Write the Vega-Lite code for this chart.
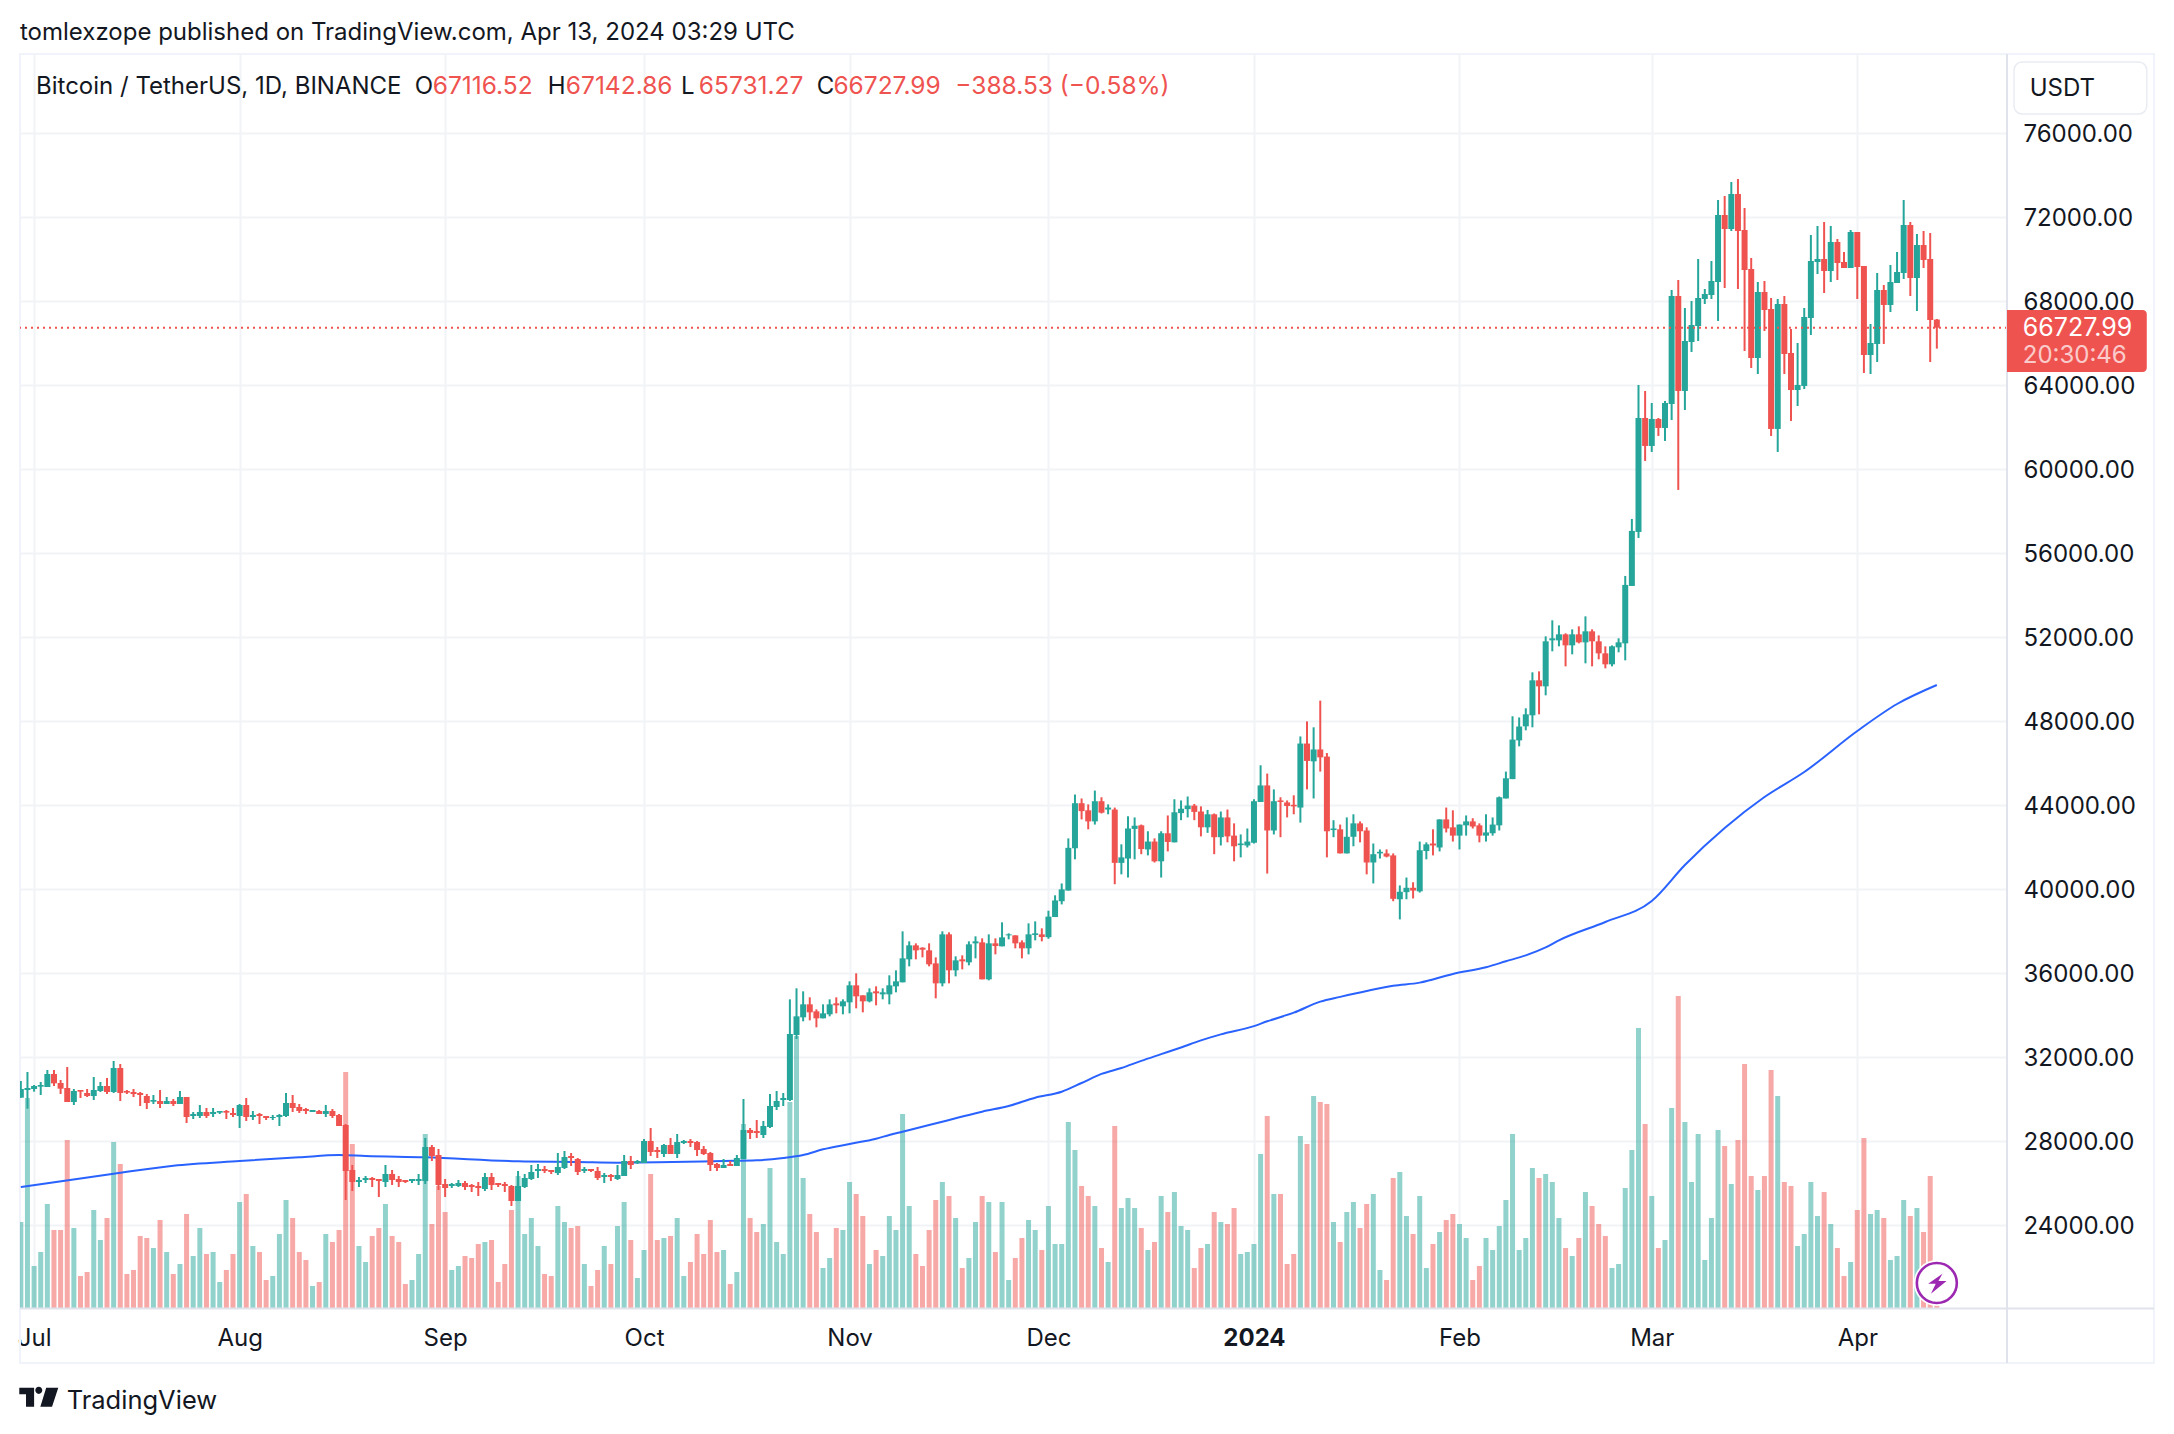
{
"$schema":"https://vega.github.io/schema/vega-lite/v6.json",
"width":1987,"height":1254,"autosize":{"type":"none"},"padding":{"left":20,"top":54,"right":167,"bottom":126},"background":"#ffffff",
"datasets":{
"candles":[
{"d":"2023-06-29","o":30064,"h":30857,"l":30064,"c":30476,"v":43},
{"d":"2023-06-30","o":30429,"h":31286,"l":29540,"c":30524,"v":105},
{"d":"2023-07-01","o":30476,"h":30667,"l":30350,"c":30619,"v":21},
{"d":"2023-07-02","o":30588,"h":30810,"l":30191,"c":30667,"v":28},
{"d":"2023-07-03","o":30572,"h":31381,"l":30572,"c":31190,"v":52},
{"d":"2023-07-04","o":31190,"h":31381,"l":30619,"c":30746,"v":39},
{"d":"2023-07-05","o":30762,"h":30905,"l":30238,"c":30492,"v":39},
{"d":"2023-07-06","o":30524,"h":31524,"l":29858,"c":29858,"v":84},
{"d":"2023-07-07","o":29858,"h":30476,"l":29715,"c":30381,"v":40},
{"d":"2023-07-08","o":30429,"h":30429,"l":30048,"c":30349,"v":16},
{"d":"2023-07-09","o":30286,"h":30476,"l":30096,"c":30143,"v":18},
{"d":"2023-07-10","o":30143,"h":31048,"l":29953,"c":30429,"v":49},
{"d":"2023-07-11","o":30381,"h":30810,"l":30334,"c":30619,"v":34},
{"d":"2023-07-12","o":30619,"h":31000,"l":30238,"c":30334,"v":45},
{"d":"2023-07-13","o":30334,"h":31810,"l":30286,"c":31476,"v":83},
{"d":"2023-07-14","o":31476,"h":31667,"l":29905,"c":30286,"v":72},
{"d":"2023-07-15","o":30381,"h":30429,"l":30238,"c":30302,"v":17},
{"d":"2023-07-16","o":30334,"h":30476,"l":30096,"c":30238,"v":19},
{"d":"2023-07-17","o":30286,"h":30334,"l":29667,"c":30191,"v":36},
{"d":"2023-07-18","o":30143,"h":30238,"l":29524,"c":29810,"v":35},
{"d":"2023-07-19","o":29873,"h":30191,"l":29762,"c":29953,"v":30},
{"d":"2023-07-20","o":29905,"h":30429,"l":29572,"c":29762,"v":44},
{"d":"2023-07-21","o":29762,"h":30096,"l":29762,"c":29905,"v":28},
{"d":"2023-07-22","o":29905,"h":30000,"l":29667,"c":29762,"v":17},
{"d":"2023-07-23","o":29762,"h":30381,"l":29762,"c":30096,"v":22},
{"d":"2023-07-24","o":30096,"h":30096,"l":28858,"c":29143,"v":47},
{"d":"2023-07-25","o":29191,"h":29381,"l":29048,"c":29286,"v":26},
{"d":"2023-07-26","o":29191,"h":29715,"l":29096,"c":29381,"v":40},
{"d":"2023-07-27","o":29381,"h":29572,"l":29096,"c":29191,"v":27},
{"d":"2023-07-28","o":29286,"h":29572,"l":29143,"c":29381,"v":28},
{"d":"2023-07-29","o":29350,"h":29429,"l":29286,"c":29429,"v":13},
{"d":"2023-07-30","o":29429,"h":29477,"l":29048,"c":29350,"v":19},
{"d":"2023-07-31","o":29334,"h":29572,"l":29143,"c":29238,"v":27},
{"d":"2023-08-01","o":29191,"h":29762,"l":28620,"c":29715,"v":53},
{"d":"2023-08-02","o":29715,"h":30048,"l":28953,"c":29143,"v":57},
{"d":"2023-08-03","o":29143,"h":29429,"l":29001,"c":29238,"v":31},
{"d":"2023-08-04","o":29286,"h":29334,"l":28810,"c":29191,"v":28},
{"d":"2023-08-05","o":29191,"h":29191,"l":29001,"c":29096,"v":14},
{"d":"2023-08-06","o":29096,"h":29238,"l":29001,"c":29143,"v":16},
{"d":"2023-08-07","o":29143,"h":29286,"l":28715,"c":29238,"v":37},
{"d":"2023-08-08","o":29191,"h":30286,"l":29143,"c":29810,"v":54},
{"d":"2023-08-09","o":29810,"h":30191,"l":29381,"c":29572,"v":45},
{"d":"2023-08-10","o":29620,"h":29762,"l":29334,"c":29429,"v":28},
{"d":"2023-08-11","o":29524,"h":29572,"l":29286,"c":29429,"v":24},
{"d":"2023-08-12","o":29381,"h":29477,"l":29381,"c":29477,"v":11},
{"d":"2023-08-13","o":29429,"h":29477,"l":29286,"c":29286,"v":13},
{"d":"2023-08-14","o":29286,"h":29715,"l":29143,"c":29429,"v":37},
{"d":"2023-08-15","o":29429,"h":29524,"l":29096,"c":29191,"v":33},
{"d":"2023-08-16","o":29238,"h":29286,"l":28715,"c":28715,"v":39},
{"d":"2023-08-17","o":28762,"h":28810,"l":25192,"c":26572,"v":118},
{"d":"2023-08-18","o":26620,"h":26858,"l":25620,"c":26048,"v":82},
{"d":"2023-08-19","o":26048,"h":26286,"l":25810,"c":26144,"v":31},
{"d":"2023-08-20","o":26144,"h":26334,"l":26000,"c":26239,"v":23},
{"d":"2023-08-21","o":26239,"h":26286,"l":25810,"c":26144,"v":36},
{"d":"2023-08-22","o":26191,"h":26191,"l":25334,"c":26096,"v":40},
{"d":"2023-08-23","o":26048,"h":26858,"l":25810,"c":26429,"v":52},
{"d":"2023-08-24","o":26429,"h":26620,"l":25905,"c":26144,"v":36},
{"d":"2023-08-25","o":26191,"h":26334,"l":25810,"c":26048,"v":33},
{"d":"2023-08-26","o":26144,"h":26144,"l":26000,"c":26048,"v":12},
{"d":"2023-08-27","o":26096,"h":26191,"l":26000,"c":26191,"v":14},
{"d":"2023-08-28","o":26096,"h":26429,"l":25905,"c":26191,"v":27},
{"d":"2023-08-29","o":26096,"h":28143,"l":25953,"c":27715,"v":87},
{"d":"2023-08-30","o":27715,"h":27810,"l":27048,"c":27286,"v":42},
{"d":"2023-08-31","o":27334,"h":27620,"l":25668,"c":25905,"v":61},
{"d":"2023-09-01","o":25953,"h":26191,"l":25334,"c":25762,"v":48},
{"d":"2023-09-02","o":25858,"h":26000,"l":25762,"c":25953,"v":19},
{"d":"2023-09-03","o":25858,"h":26144,"l":25810,"c":26000,"v":21},
{"d":"2023-09-04","o":26000,"h":26096,"l":25668,"c":25810,"v":26},
{"d":"2023-09-05","o":25905,"h":25953,"l":25572,"c":25810,"v":25},
{"d":"2023-09-06","o":25858,"h":26048,"l":25382,"c":25762,"v":32},
{"d":"2023-09-07","o":25715,"h":26477,"l":25620,"c":26286,"v":33},
{"d":"2023-09-08","o":26286,"h":26477,"l":25668,"c":25905,"v":34},
{"d":"2023-09-09","o":26000,"h":26000,"l":25810,"c":25905,"v":13},
{"d":"2023-09-10","o":25953,"h":26048,"l":25572,"c":25858,"v":22},
{"d":"2023-09-11","o":25858,"h":25905,"l":24906,"c":25144,"v":49},
{"d":"2023-09-12","o":25144,"h":26572,"l":25144,"c":25858,"v":66},
{"d":"2023-09-13","o":25810,"h":26429,"l":25762,"c":26239,"v":37},
{"d":"2023-09-14","o":26191,"h":26858,"l":26144,"c":26525,"v":45},
{"d":"2023-09-15","o":26572,"h":26905,"l":26239,"c":26667,"v":31},
{"d":"2023-09-16","o":26667,"h":26810,"l":26477,"c":26572,"v":17},
{"d":"2023-09-17","o":26620,"h":26620,"l":26429,"c":26525,"v":16},
{"d":"2023-09-18","o":26477,"h":27429,"l":26381,"c":26762,"v":51},
{"d":"2023-09-19","o":26715,"h":27524,"l":26667,"c":27239,"v":43},
{"d":"2023-09-20","o":27286,"h":27429,"l":26810,"c":27191,"v":40},
{"d":"2023-09-21","o":27143,"h":27191,"l":26381,"c":26525,"v":41},
{"d":"2023-09-22","o":26572,"h":26762,"l":26477,"c":26667,"v":22},
{"d":"2023-09-23","o":26667,"h":26667,"l":26525,"c":26572,"v":11},
{"d":"2023-09-24","o":26572,"h":26762,"l":26144,"c":26239,"v":19},
{"d":"2023-09-25","o":26286,"h":26477,"l":26000,"c":26381,"v":31},
{"d":"2023-09-26","o":26381,"h":26429,"l":26096,"c":26286,"v":22},
{"d":"2023-09-27","o":26191,"h":26858,"l":26144,"c":26381,"v":41},
{"d":"2023-09-28","o":26334,"h":27334,"l":26334,"c":27048,"v":53},
{"d":"2023-09-29","o":27048,"h":27286,"l":26667,"c":26858,"v":34},
{"d":"2023-09-30","o":26953,"h":27096,"l":26905,"c":27048,"v":15},
{"d":"2023-10-01","o":26953,"h":28096,"l":26953,"c":28000,"v":29},
{"d":"2023-10-02","o":28000,"h":28620,"l":27286,"c":27477,"v":67},
{"d":"2023-10-03","o":27572,"h":27715,"l":27191,"c":27477,"v":34},
{"d":"2023-10-04","o":27381,"h":27858,"l":27239,"c":27810,"v":35},
{"d":"2023-10-05","o":27810,"h":28143,"l":27381,"c":27381,"v":36},
{"d":"2023-10-06","o":27381,"h":28334,"l":27191,"c":27953,"v":45},
{"d":"2023-10-07","o":27905,"h":28048,"l":27858,"c":28000,"v":16},
{"d":"2023-10-08","o":28000,"h":28096,"l":27715,"c":27905,"v":23},
{"d":"2023-10-09","o":27953,"h":28000,"l":27286,"c":27572,"v":37},
{"d":"2023-10-10","o":27620,"h":27762,"l":27334,"c":27381,"v":27},
{"d":"2023-10-11","o":27429,"h":27477,"l":26572,"c":26858,"v":44},
{"d":"2023-10-12","o":26905,"h":26953,"l":26572,"c":26715,"v":28},
{"d":"2023-10-13","o":26715,"h":27143,"l":26715,"c":26858,"v":29},
{"d":"2023-10-14","o":26905,"h":27048,"l":26810,"c":26810,"v":12},
{"d":"2023-10-15","o":26810,"h":27334,"l":26810,"c":27191,"v":18},
{"d":"2023-10-16","o":27143,"h":30000,"l":27143,"c":28525,"v":92},
{"d":"2023-10-17","o":28525,"h":28620,"l":28096,"c":28381,"v":45},
{"d":"2023-10-18","o":28477,"h":29001,"l":28143,"c":28381,"v":38},
{"d":"2023-10-19","o":28286,"h":28953,"l":28143,"c":28715,"v":42},
{"d":"2023-10-20","o":28667,"h":30238,"l":28620,"c":29667,"v":70},
{"d":"2023-10-21","o":29620,"h":30381,"l":29477,"c":29905,"v":33},
{"d":"2023-10-22","o":29953,"h":30286,"l":29667,"c":30048,"v":27},
{"d":"2023-10-23","o":29953,"h":34746,"l":29905,"c":33095,"v":103},
{"d":"2023-10-24","o":33047,"h":35270,"l":32857,"c":33937,"v":136},
{"d":"2023-10-25","o":33889,"h":35127,"l":33699,"c":34508,"v":65},
{"d":"2023-10-26","o":34508,"h":34842,"l":33746,"c":34127,"v":47},
{"d":"2023-10-27","o":34175,"h":34270,"l":33413,"c":33842,"v":38},
{"d":"2023-10-28","o":33842,"h":34508,"l":33842,"c":34080,"v":20},
{"d":"2023-10-29","o":34032,"h":34746,"l":33937,"c":34508,"v":25},
{"d":"2023-10-30","o":34556,"h":34842,"l":34080,"c":34461,"v":40},
{"d":"2023-10-31","o":34413,"h":34746,"l":34032,"c":34651,"v":39},
{"d":"2023-11-01","o":34603,"h":35603,"l":34080,"c":35413,"v":63},
{"d":"2023-11-02","o":35413,"h":35984,"l":34318,"c":34889,"v":57},
{"d":"2023-11-03","o":34937,"h":34937,"l":34127,"c":34651,"v":46},
{"d":"2023-11-04","o":34651,"h":35270,"l":34603,"c":35080,"v":22},
{"d":"2023-11-05","o":35127,"h":35365,"l":34461,"c":35032,"v":29},
{"d":"2023-11-06","o":34984,"h":35270,"l":34746,"c":35080,"v":26},
{"d":"2023-11-07","o":34984,"h":35889,"l":34508,"c":35413,"v":46},
{"d":"2023-11-08","o":35365,"h":36127,"l":35080,"c":35603,"v":39},
{"d":"2023-11-09","o":35556,"h":37984,"l":35556,"c":36698,"v":97},
{"d":"2023-11-10","o":36651,"h":37508,"l":36317,"c":37317,"v":51},
{"d":"2023-11-11","o":37317,"h":37413,"l":36651,"c":37079,"v":27},
{"d":"2023-11-12","o":37206,"h":37222,"l":36746,"c":37111,"v":21},
{"d":"2023-11-13","o":37079,"h":37413,"l":36317,"c":36413,"v":39},
{"d":"2023-11-14","o":36460,"h":36746,"l":34794,"c":35508,"v":54},
{"d":"2023-11-15","o":35508,"h":37984,"l":35365,"c":37841,"v":63},
{"d":"2023-11-16","o":37841,"h":37937,"l":35508,"c":36127,"v":56},
{"d":"2023-11-17","o":36127,"h":36794,"l":35841,"c":36603,"v":45},
{"d":"2023-11-18","o":36651,"h":36841,"l":36175,"c":36556,"v":20},
{"d":"2023-11-19","o":36508,"h":37508,"l":36365,"c":37365,"v":25},
{"d":"2023-11-20","o":37413,"h":37746,"l":36698,"c":37508,"v":43},
{"d":"2023-11-21","o":37460,"h":37651,"l":35698,"c":35698,"v":56},
{"d":"2023-11-22","o":35698,"h":37841,"l":35651,"c":37413,"v":53},
{"d":"2023-11-23","o":37413,"h":37651,"l":36889,"c":37286,"v":28},
{"d":"2023-11-24","o":37270,"h":38413,"l":37270,"c":37698,"v":53},
{"d":"2023-11-25","o":37793,"h":37889,"l":37603,"c":37841,"v":14},
{"d":"2023-11-26","o":37793,"h":37793,"l":37175,"c":37413,"v":25},
{"d":"2023-11-27","o":37460,"h":37555,"l":36698,"c":37175,"v":35},
{"d":"2023-11-28","o":37175,"h":38365,"l":36889,"c":37841,"v":44},
{"d":"2023-11-29","o":37810,"h":38460,"l":37555,"c":37889,"v":39},
{"d":"2023-11-30","o":37841,"h":38127,"l":37508,"c":37714,"v":29},
{"d":"2023-12-01","o":37706,"h":38966,"l":37630,"c":38684,"v":51},
{"d":"2023-12-02","o":38665,"h":39700,"l":38665,"c":39456,"v":32},
{"d":"2023-12-03","o":39418,"h":40265,"l":39267,"c":39983,"v":32},
{"d":"2023-12-04","o":39926,"h":42410,"l":39926,"c":41959,"v":93},
{"d":"2023-12-05","o":41940,"h":44500,"l":41413,"c":44085,"v":79},
{"d":"2023-12-06","o":44085,"h":44311,"l":43314,"c":43709,"v":61},
{"d":"2023-12-07","o":43747,"h":44029,"l":42843,"c":43220,"v":56},
{"d":"2023-12-08","o":43220,"h":44688,"l":43069,"c":44180,"v":51},
{"d":"2023-12-09","o":44180,"h":44368,"l":43597,"c":43634,"v":30},
{"d":"2023-12-10","o":43784,"h":44029,"l":43558,"c":43878,"v":23},
{"d":"2023-12-11","o":43784,"h":43878,"l":40227,"c":41244,"v":91},
{"d":"2023-12-12","o":41244,"h":42128,"l":40698,"c":41507,"v":50},
{"d":"2023-12-13","o":41451,"h":43464,"l":40547,"c":42881,"v":55},
{"d":"2023-12-14","o":42862,"h":43408,"l":41413,"c":43013,"v":50},
{"d":"2023-12-15","o":43032,"h":43069,"l":41658,"c":41902,"v":40},
{"d":"2023-12-16","o":41884,"h":42749,"l":41601,"c":42260,"v":29},
{"d":"2023-12-17","o":42260,"h":42411,"l":41262,"c":41319,"v":33},
{"d":"2023-12-18","o":41319,"h":42749,"l":40547,"c":42655,"v":56},
{"d":"2023-12-19","o":42655,"h":43502,"l":41790,"c":42241,"v":48},
{"d":"2023-12-20","o":42222,"h":44274,"l":42222,"c":43653,"v":58},
{"d":"2023-12-21","o":43615,"h":44217,"l":43276,"c":43822,"v":41},
{"d":"2023-12-22","o":43803,"h":44405,"l":43408,"c":43973,"v":39},
{"d":"2023-12-23","o":43973,"h":44050,"l":43276,"c":43671,"v":20},
{"d":"2023-12-24","o":43690,"h":43935,"l":42505,"c":42937,"v":30},
{"d":"2023-12-25","o":42937,"h":43766,"l":42674,"c":43558,"v":32},
{"d":"2023-12-26","o":43558,"h":43596,"l":41658,"c":42467,"v":48},
{"d":"2023-12-27","o":42467,"h":43690,"l":42072,"c":43408,"v":43},
{"d":"2023-12-28","o":43408,"h":43784,"l":42222,"c":42505,"v":42},
{"d":"2023-12-29","o":42542,"h":43126,"l":41319,"c":42034,"v":50},
{"d":"2023-12-30","o":42090,"h":42599,"l":41507,"c":42166,"v":27},
{"d":"2023-12-31","o":42072,"h":42881,"l":41978,"c":42260,"v":28},
{"d":"2024-01-01","o":42203,"h":44274,"l":42166,"c":44180,"v":32},
{"d":"2024-01-02","o":44142,"h":45892,"l":44142,"c":44932,"v":77},
{"d":"2024-01-03","o":44932,"h":45497,"l":40736,"c":42787,"v":96},
{"d":"2024-01-04","o":42787,"h":44744,"l":42599,"c":44180,"v":57},
{"d":"2024-01-05","o":44217,"h":44368,"l":42467,"c":44142,"v":57},
{"d":"2024-01-06","o":44123,"h":44217,"l":43408,"c":43954,"v":22},
{"d":"2024-01-07","o":44010,"h":44462,"l":43558,"c":43935,"v":27},
{"d":"2024-01-08","o":43878,"h":47266,"l":43163,"c":46927,"v":86},
{"d":"2024-01-09","o":46927,"h":47981,"l":44744,"c":46099,"v":82},
{"d":"2024-01-10","o":46080,"h":47699,"l":44311,"c":46645,"v":106},
{"d":"2024-01-11","o":46645,"h":48970,"l":45591,"c":46269,"v":103},
{"d":"2024-01-12","o":46306,"h":46476,"l":41507,"c":42749,"v":102},
{"d":"2024-01-13","o":42806,"h":43276,"l":42467,"c":42881,"v":43},
{"d":"2024-01-14","o":42843,"h":43069,"l":41695,"c":41695,"v":33},
{"d":"2024-01-15","o":41695,"h":43408,"l":41695,"c":42486,"v":48},
{"d":"2024-01-16","o":42486,"h":43558,"l":42034,"c":43126,"v":53},
{"d":"2024-01-17","o":43126,"h":43220,"l":42222,"c":42749,"v":40},
{"d":"2024-01-18","o":42787,"h":42937,"l":40698,"c":41262,"v":52},
{"d":"2024-01-19","o":41262,"h":42166,"l":40265,"c":41658,"v":57},
{"d":"2024-01-20","o":41695,"h":41884,"l":41451,"c":41771,"v":19},
{"d":"2024-01-21","o":41695,"h":41884,"l":41507,"c":41545,"v":14},
{"d":"2024-01-22","o":41601,"h":41695,"l":39418,"c":39531,"v":65},
{"d":"2024-01-23","o":39512,"h":40171,"l":38552,"c":39870,"v":68},
{"d":"2024-01-24","o":39851,"h":40547,"l":39512,"c":40058,"v":46},
{"d":"2024-01-25","o":40058,"h":40322,"l":39550,"c":39926,"v":37},
{"d":"2024-01-26","o":39889,"h":42260,"l":39832,"c":41846,"v":56},
{"d":"2024-01-27","o":41808,"h":42222,"l":41413,"c":42128,"v":20},
{"d":"2024-01-28","o":42166,"h":42843,"l":41601,"c":42072,"v":32},
{"d":"2024-01-29","o":41978,"h":43314,"l":41790,"c":43314,"v":38},
{"d":"2024-01-30","o":43314,"h":43878,"l":42693,"c":42881,"v":44},
{"d":"2024-01-31","o":42937,"h":43747,"l":42260,"c":42542,"v":47},
{"d":"2024-02-01","o":42542,"h":43069,"l":41884,"c":43069,"v":42},
{"d":"2024-02-02","o":43032,"h":43502,"l":42542,"c":43220,"v":35},
{"d":"2024-02-03","o":43220,"h":43370,"l":42881,"c":42975,"v":14},
{"d":"2024-02-04","o":43032,"h":43126,"l":42222,"c":42542,"v":21},
{"d":"2024-02-05","o":42542,"h":43558,"l":42260,"c":42693,"v":35},
{"d":"2024-02-06","o":42655,"h":43408,"l":42542,"c":43069,"v":29},
{"d":"2024-02-07","o":43032,"h":44405,"l":42787,"c":44368,"v":41},
{"d":"2024-02-08","o":44311,"h":45591,"l":44311,"c":45271,"v":54},
{"d":"2024-02-09","o":45233,"h":48226,"l":45233,"c":47115,"v":87},
{"d":"2024-02-10","o":47078,"h":48169,"l":46795,"c":47737,"v":29},
{"d":"2024-02-11","o":47747,"h":48604,"l":47556,"c":48318,"v":35},
{"d":"2024-02-12","o":48271,"h":50318,"l":47699,"c":49937,"v":70},
{"d":"2024-02-13","o":49937,"h":50365,"l":48318,"c":49651,"v":65},
{"d":"2024-02-14","o":49651,"h":52032,"l":49223,"c":51794,"v":67},
{"d":"2024-02-15","o":51841,"h":52794,"l":51318,"c":51937,"v":63},
{"d":"2024-02-16","o":51841,"h":52555,"l":51556,"c":52127,"v":45},
{"d":"2024-02-17","o":52127,"h":52175,"l":50603,"c":51603,"v":30},
{"d":"2024-02-18","o":51603,"h":52365,"l":51175,"c":52127,"v":26},
{"d":"2024-02-19","o":52127,"h":52508,"l":51698,"c":51746,"v":35},
{"d":"2024-02-20","o":51746,"h":52984,"l":50746,"c":52270,"v":58},
{"d":"2024-02-21","o":52270,"h":52365,"l":50603,"c":51794,"v":51},
{"d":"2024-02-22","o":51794,"h":52079,"l":50937,"c":51222,"v":42},
{"d":"2024-02-23","o":51222,"h":51556,"l":50508,"c":50699,"v":36},
{"d":"2024-02-24","o":50699,"h":51600,"l":50603,"c":51556,"v":20},
{"d":"2024-02-25","o":51508,"h":51937,"l":51270,"c":51746,"v":22},
{"d":"2024-02-26","o":51698,"h":54908,"l":50889,"c":54480,"v":60},
{"d":"2024-02-27","o":54432,"h":57622,"l":54432,"c":57051,"v":79},
{"d":"2024-02-28","o":57003,"h":64002,"l":56717,"c":62430,"v":140},
{"d":"2024-02-29","o":62430,"h":63716,"l":60383,"c":61097,"v":92},
{"d":"2024-03-01","o":61097,"h":63145,"l":60812,"c":62383,"v":56},
{"d":"2024-03-02","o":62383,"h":62430,"l":61574,"c":61954,"v":30},
{"d":"2024-03-03","o":61954,"h":63240,"l":61335,"c":63145,"v":34},
{"d":"2024-03-04","o":63097,"h":68525,"l":62335,"c":68239,"v":100},
{"d":"2024-03-05","o":68239,"h":69001,"l":59003,"c":63716,"v":156},
{"d":"2024-03-06","o":63716,"h":67667,"l":62811,"c":66096,"v":93},
{"d":"2024-03-07","o":66049,"h":68001,"l":65573,"c":66858,"v":63},
{"d":"2024-03-08","o":66810,"h":70000,"l":66096,"c":68144,"v":87},
{"d":"2024-03-09","o":68096,"h":68572,"l":67858,"c":68334,"v":24},
{"d":"2024-03-10","o":68286,"h":69905,"l":68096,"c":68953,"v":45},
{"d":"2024-03-11","o":68905,"h":72809,"l":67049,"c":72095,"v":89},
{"d":"2024-03-12","o":72095,"h":73000,"l":68620,"c":71429,"v":81},
{"d":"2024-03-13","o":71429,"h":73666,"l":71333,"c":73095,"v":62},
{"d":"2024-03-14","o":73095,"h":73809,"l":68572,"c":71333,"v":84},
{"d":"2024-03-15","o":71381,"h":72428,"l":65620,"c":69477,"v":122},
{"d":"2024-03-16","o":69524,"h":70048,"l":64811,"c":65287,"v":66},
{"d":"2024-03-17","o":65287,"h":68905,"l":64525,"c":68429,"v":59},
{"d":"2024-03-18","o":68429,"h":68953,"l":66572,"c":67572,"v":66},
{"d":"2024-03-19","o":67620,"h":68143,"l":61573,"c":61907,"v":119},
{"d":"2024-03-20","o":61907,"h":68096,"l":60812,"c":67858,"v":106},
{"d":"2024-03-21","o":67858,"h":68239,"l":64525,"c":65477,"v":63},
{"d":"2024-03-22","o":65525,"h":66668,"l":62288,"c":63763,"v":61},
{"d":"2024-03-23","o":63763,"h":66001,"l":63002,"c":64002,"v":31},
{"d":"2024-03-24","o":63954,"h":67668,"l":63811,"c":67239,"v":37},
{"d":"2024-03-25","o":67191,"h":71143,"l":66382,"c":69905,"v":63},
{"d":"2024-03-26","o":69858,"h":71571,"l":69286,"c":70000,"v":46},
{"d":"2024-03-27","o":70000,"h":71762,"l":68382,"c":69429,"v":58},
{"d":"2024-03-28","o":69429,"h":71571,"l":68905,"c":70810,"v":42},
{"d":"2024-03-29","o":70810,"h":70953,"l":69001,"c":69810,"v":30},
{"d":"2024-03-30","o":69858,"h":70334,"l":69572,"c":69572,"v":16},
{"d":"2024-03-31","o":69572,"h":71381,"l":69572,"c":71286,"v":23},
{"d":"2024-04-01","o":71286,"h":71286,"l":68096,"c":69619,"v":49},
{"d":"2024-04-02","o":69667,"h":69667,"l":64573,"c":65430,"v":85},
{"d":"2024-04-03","o":65430,"h":66906,"l":64525,"c":66001,"v":47},
{"d":"2024-04-04","o":65954,"h":69334,"l":65097,"c":68525,"v":49},
{"d":"2024-04-05","o":68525,"h":68762,"l":65954,"c":67811,"v":45},
{"d":"2024-04-06","o":67811,"h":69715,"l":67477,"c":68905,"v":24},
{"d":"2024-04-07","o":68858,"h":70334,"l":68858,"c":69381,"v":26},
{"d":"2024-04-08","o":69334,"h":72809,"l":69048,"c":71619,"v":54},
{"d":"2024-04-09","o":71619,"h":71762,"l":68239,"c":69096,"v":46},
{"d":"2024-04-10","o":69096,"h":71191,"l":67525,"c":70667,"v":50},
{"d":"2024-04-11","o":70667,"h":71333,"l":69572,"c":69953,"v":38},
{"d":"2024-04-12","o":70000,"h":71238,"l":65096,"c":67096,"v":66},
{"d":"2024-04-13","o":67116.52,"h":67142.86,"l":65731.27,"c":66727.99,"v":5}
],
"ma":[
{"d":"2023-06-29","m":25811},{"d":"2023-07-13","m":26446},{"d":"2023-07-22","m":26826},{"d":"2023-08-01","m":27048},{"d":"2023-08-10","m":27223},{"d":"2023-08-16","m":27334},{"d":"2023-08-20","m":27286},{"d":"2023-08-29","m":27223},{"d":"2023-09-12","m":27033},{"d":"2023-09-21","m":27001},{"d":"2023-09-27","m":26969},{"d":"2023-10-03","m":26985},{"d":"2023-10-13","m":27048},{"d":"2023-10-18","m":27080},{"d":"2023-10-22","m":27191},{"d":"2023-10-25","m":27334},{"d":"2023-10-28","m":27604},{"d":"2023-11-01","m":27858},{"d":"2023-11-05","m":28112},{"d":"2023-11-07","m":28286},{"d":"2023-11-09","m":28445},{"d":"2023-11-13","m":28763},{"d":"2023-11-17","m":29080},{"d":"2023-11-21","m":29397},{"d":"2023-11-25","m":29667},{"d":"2023-11-29","m":30064},{"d":"2023-12-03","m":30347},{"d":"2023-12-06","m":30761},{"d":"2023-12-09","m":31194},{"d":"2023-12-12","m":31476},{"d":"2023-12-15","m":31815},{"d":"2023-12-18","m":32135},{"d":"2023-12-21","m":32455},{"d":"2023-12-24","m":32794},{"d":"2023-12-27","m":33076},{"d":"2024-01-01","m":33470},{"d":"2024-01-03","m":33700},{"d":"2024-01-07","m":34111},{"d":"2024-01-11","m":34638},{"d":"2024-01-14","m":34864},{"d":"2024-01-18","m":35146},{"d":"2024-01-22","m":35391},{"d":"2024-01-26","m":35542},{"d":"2024-01-31","m":35955},{"d":"2024-02-05","m":36275},{"d":"2024-02-08","m":36558},{"d":"2024-02-11","m":36840},{"d":"2024-02-14","m":37216},{"d":"2024-02-16","m":37555},{"d":"2024-02-23","m":38430},{"d":"2024-03-01","m":39428},{"d":"2024-03-06","m":41142},{"d":"2024-03-12","m":42904},{"d":"2024-03-18","m":44380},{"d":"2024-03-24","m":45570},{"d":"2024-04-01","m":47523},{"d":"2024-04-07","m":48810},{"d":"2024-04-13","m":49715}
]
},
"resolve":{"scale":{"y":"independent"},"axis":{"y":"independent"}},
"layer":[
{"data":{"values":[{"x":"2023-06-28T21:00:00Z","x2":"2024-05-15T18:00:00Z","p":79762,"p2":17427}]},
 "mark":{"type":"rect","fill":null,"stroke":"#f0f3fa","strokeWidth":2,"clip":false},
 "encoding":{"x":{"field":"x","type":"temporal","scale":{"type":"utc","padding":0,"domain":[1687986000000,1713880800000]},
   "title":null,"axis":{"orient":"bottom","title":null,"grid":true,"gridColor":"#f1f3f6","gridWidth":2,"domain":false,"ticks":false,"labelFont":"Inter","labelFontSize":24,"labelColor":"#131722","labelPadding":18,"labelFlush":false,"labelOverlap":false,
    "values":[1688169600000,1690848000000,1693526400000,1696118400000,1698796800000,1701388800000,1704067200000,1706745600000,1709251200000,1711929600000],
    "labelExpr":"utcmonth(datum.value)==0 ? '2024' : utcFormat(datum.value,'%b')",
    "labelFontWeight":{"condition":{"test":"utcmonth(datum.value)==0","value":700},"value":400}}},
  "x2":{"field":"x2"},
  "y":{"field":"p","type":"quantitative","title":null,"scale":{"domain":[20048,79762],"nice":false,"zero":false},
   "axis":{"orient":"right","title":null,"grid":true,"gridColor":"#f1f3f6","gridWidth":2,"domain":false,"ticks":false,"labelFont":"Inter","labelFontSize":24,"labelColor":"#131722","labelPadding":16,"labelAlign":"left","labelBaseline":"middle","labelOffset":1,"format":".2f","labelOverlap":false,"labelBound":false,"labelFlush":false,
    "values":[24000,28000,32000,36000,40000,44000,48000,52000,56000,60000,64000,68000,72000,76000]}},
  "y2":{"field":"p2"}}},
{"data":{"name":"candles"},"mark":{"type":"bar","size":5,"opacity":0.5,"clip":true},
 "encoding":{"x":{"field":"d","type":"temporal","title":null,"scale":{"type":"utc","padding":0}},
  "y":{"field":"v","type":"quantitative","title":null,"axis":null,"scale":{"domain":[0,627],"nice":false,"zero":true}},
  "color":{"condition":{"test":"datum.c>=datum.o","value":"#26a69a"},"value":"#ef5350"}}},
{"data":{"name":"ma"},"mark":{"type":"line","color":"#2962ff","strokeWidth":2,"interpolate":"monotone","clip":true},
 "encoding":{"x":{"field":"d","type":"temporal","title":null,"scale":{"type":"utc","padding":0}},
  "y":{"field":"m","type":"quantitative","title":null,"axis":null,"scale":{"domain":[20048,79762],"nice":false,"zero":false}}}},
{"data":{"name":"candles"},"mark":{"type":"rule","strokeWidth":2,"clip":true},
 "encoding":{"x":{"field":"d","type":"temporal","title":null,"scale":{"type":"utc","padding":0}},
  "y":{"field":"l","type":"quantitative","title":null,"axis":null,"scale":{"domain":[20048,79762],"nice":false,"zero":false}},"y2":{"field":"h"},
  "color":{"condition":{"test":"datum.c>=datum.o","value":"#26a69a"},"value":"#ef5350"}}},
{"data":{"name":"candles"},"mark":{"type":"bar","size":6,"clip":true},
 "encoding":{"x":{"field":"d","type":"temporal","title":null,"scale":{"type":"utc","padding":0}},
  "y":{"field":"o","type":"quantitative","title":null,"axis":null,"scale":{"domain":[20048,79762],"nice":false,"zero":false}},"y2":{"field":"c"},
  "color":{"condition":{"test":"datum.c>=datum.o","value":"#26a69a"},"value":"#ef5350"}}},
{"data":{"values":[{"p":66727.99}]},"mark":{"type":"rule","color":"#ef5350","strokeWidth":2,"strokeDash":[2,4]},
 "encoding":{"y":{"field":"p","type":"quantitative","title":null,"axis":null,"scale":{"domain":[20048,79762],"nice":false,"zero":false}}}},
{"data":{"values":[{"x":"2024-04-23T14:00:00Z","p":79762,"p2":17427}]},"mark":{"type":"rule","color":"#e0e3eb","strokeWidth":2,"clip":false},
 "encoding":{"x":{"field":"x","type":"temporal","title":null,"scale":{"type":"utc","padding":0}},
  "y":{"field":"p","type":"quantitative","title":null,"axis":null,"scale":{"domain":[20048,79762],"nice":false,"zero":false}},"y2":{"field":"p2"}}},
{"data":{"values":[{"x":"2023-06-28T21:00:00Z","x2":"2024-05-15T18:00:00Z","p":20030}]},"mark":{"type":"rule","color":"#e0e3eb","strokeWidth":2,"clip":false},
 "encoding":{"x":{"field":"x","type":"temporal","title":null,"scale":{"type":"utc","padding":0}},"x2":{"field":"x2"},
  "y":{"field":"p","type":"quantitative","title":null,"axis":null,"scale":{"domain":[20048,79762],"nice":false,"zero":false}}}},
{"data":{"values":[{"x":"2024-04-23T14:00:00Z","x2":"2024-05-14T16:00:00Z","p":67571,"p2":64619}]},"mark":{"type":"rect","color":"#ef5350","cornerRadiusTopRight":4,"cornerRadiusBottomRight":4,"clip":false},
 "encoding":{"x":{"field":"x","type":"temporal","title":null,"scale":{"type":"utc","padding":0}},"x2":{"field":"x2"},
  "y":{"field":"p","type":"quantitative","title":null,"axis":null,"scale":{"domain":[20048,79762],"nice":false,"zero":false}},"y2":{"field":"p2"}}},
{"data":{"values":[{"x":"2024-04-24T15:30:00Z","x2":"2024-05-14T16:00:00Z","p":79381,"p2":76905}]},"mark":{"type":"rect","fill":"#ffffff","stroke":"#e9ecf3","strokeWidth":1.5,"cornerRadius":8,"clip":false},
 "encoding":{"x":{"field":"x","type":"temporal","title":null,"scale":{"type":"utc","padding":0}},"x2":{"field":"x2"},
  "y":{"field":"p","type":"quantitative","title":null,"axis":null,"scale":{"domain":[20048,79762],"nice":false,"zero":false}},"y2":{"field":"p2"}}},
{"data":{"values":[
  {"x":"2023-06-28T21:00:00Z","p":80745,"t":"tomlexzope published on TradingView.com, Apr 13, 2024 03:29 UTC"},
  {"x":"2023-07-01T07:00:00Z","p":78170,"t":"Bitcoin / TetherUS, 1D, BINANCE"},
  {"x":"2023-08-27T10:00:00Z","p":78170,"t":"O"},
  {"x":"2023-09-16T11:30:00Z","p":78170,"t":"H"},
  {"x":"2023-10-06T13:30:00Z","p":78170,"t":"L"},
  {"x":"2023-10-27T01:00:00Z","p":78170,"t":"C"},
  {"x":"2024-04-27T00:00:00Z","p":78100,"t":"USDT"}
 ]},"mark":{"type":"text","align":"left","baseline":"middle","font":"Inter","fontSize":24,"color":"#131722","clip":false},
 "encoding":{"x":{"field":"x","type":"temporal","title":null,"scale":{"type":"utc","padding":0}},
  "y":{"field":"p","type":"quantitative","title":null,"axis":null,"scale":{"domain":[20048,79762],"nice":false,"zero":false}},"text":{"field":"t"}}},
{"data":{"values":[{"x":"2023-07-05T22:00:00Z","p":15620,"t":"TradingView"}]},"mark":{"type":"text","align":"left","baseline":"middle","font":"Inter","fontSize":25.5,"color":"#131722","clip":false},
 "encoding":{"x":{"field":"x","type":"temporal","title":null,"scale":{"type":"utc","padding":0}},
  "y":{"field":"p","type":"quantitative","title":null,"axis":null,"scale":{"domain":[20048,79762],"nice":false,"zero":false}},"text":{"field":"t"}}},
{"data":{"values":[
  {"x":"2023-08-30T03:00:00Z","p":78170,"t":"67116.52"},
  {"x":"2023-09-19T05:00:00Z","p":78170,"t":"67142.86"},
  {"x":"2023-10-09T06:30:00Z","p":78170,"t":"65731.27"},
  {"x":"2023-10-29T13:30:00Z","p":78170,"t":"66727.99"},
  {"x":"2023-11-16T23:00:00Z","p":78170,"t":"−388.53 (−0.58%)"}
 ]},"mark":{"type":"text","align":"left","baseline":"middle","font":"Inter","fontSize":24.5,"color":"#ef5350","clip":false},
 "encoding":{"x":{"field":"x","type":"temporal","title":null,"scale":{"type":"utc","padding":0}},
  "y":{"field":"p","type":"quantitative","title":null,"axis":null,"scale":{"domain":[20048,79762],"nice":false,"zero":false}},"text":{"field":"t"}}},
{"data":{"values":[{"x":"2024-04-25T23:00:00Z","p":66715,"t":"66727.99"}]},"mark":{"type":"text","align":"left","baseline":"middle","font":"Inter","fontSize":25,"color":"#ffffff","clip":false},
 "encoding":{"x":{"field":"x","type":"temporal","title":null,"scale":{"type":"utc","padding":0}},
  "y":{"field":"p","type":"quantitative","title":null,"axis":null,"scale":{"domain":[20048,79762],"nice":false,"zero":false}},"text":{"field":"t"}}},
{"data":{"values":[{"x":"2024-04-25T23:00:00Z","p":65380,"t":"20:30:46"}]},"mark":{"type":"text","align":"left","baseline":"middle","font":"Inter","fontSize":24,"color":"#ffffff","opacity":0.7,"clip":false},
 "encoding":{"x":{"field":"x","type":"temporal","title":null,"scale":{"type":"utc","padding":0}},
  "y":{"field":"p","type":"quantitative","title":null,"axis":null,"scale":{"domain":[20048,79762],"nice":false,"zero":false}},"text":{"field":"t"}}},
{"data":{"values":[{"x":"2023-07-01T17:00:00Z","p":15810}]},"mark":{"type":"point","filled":true,"color":"#131722","opacity":1,"size":1521,"shape":"M-1 -0.48H-0.24V0.5H-0.655V-0.137H-1Z M-0.18 -0.34A0.18 0.18 0 1 1 0.18 -0.34A0.18 0.18 0 1 1 -0.18 -0.34Z M0.38 -0.48H1L0.68 0.5H0.08Z","clip":false},
 "encoding":{"x":{"field":"x","type":"temporal","title":null,"scale":{"type":"utc","padding":0}},
  "y":{"field":"p","type":"quantitative","title":null,"axis":null,"scale":{"domain":[20048,79762],"nice":false,"zero":false}}}},
{"data":{"values":[{"x":"2024-04-13","p":21237}]},"mark":{"type":"point","shape":"circle","filled":true,"color":"#ffffff","opacity":1,"size":2116,"clip":false},
 "encoding":{"x":{"field":"x","type":"temporal","title":null,"scale":{"type":"utc","padding":0}},
  "y":{"field":"p","type":"quantitative","title":null,"axis":null,"scale":{"domain":[20048,79762],"nice":false,"zero":false}}}},
{"data":{"values":[{"x":"2024-04-13","p":21237}]},"mark":{"type":"point","shape":"circle","filled":false,"fill":"#ffffff","fillOpacity":1,"stroke":"#9c27b0","strokeWidth":2.6,"opacity":1,"size":1600,"clip":false},
 "encoding":{"x":{"field":"x","type":"temporal","title":null,"scale":{"type":"utc","padding":0}},
  "y":{"field":"p","type":"quantitative","title":null,"axis":null,"scale":{"domain":[20048,79762],"nice":false,"zero":false}}}},
{"data":{"values":[{"x":"2024-04-13","p":21237}]},"mark":{"type":"point","filled":true,"color":"#9c27b0","opacity":1,"size":1296,"shape":"M0.31 -0.52L-0.48 0.04H-0.06L-0.33 0.59L0.54 -0.11H0.09Z","clip":false},
 "encoding":{"x":{"field":"x","type":"temporal","title":null,"scale":{"type":"utc","padding":0}},
  "y":{"field":"p","type":"quantitative","title":null,"axis":null,"scale":{"domain":[20048,79762],"nice":false,"zero":false}}}}
]
}
